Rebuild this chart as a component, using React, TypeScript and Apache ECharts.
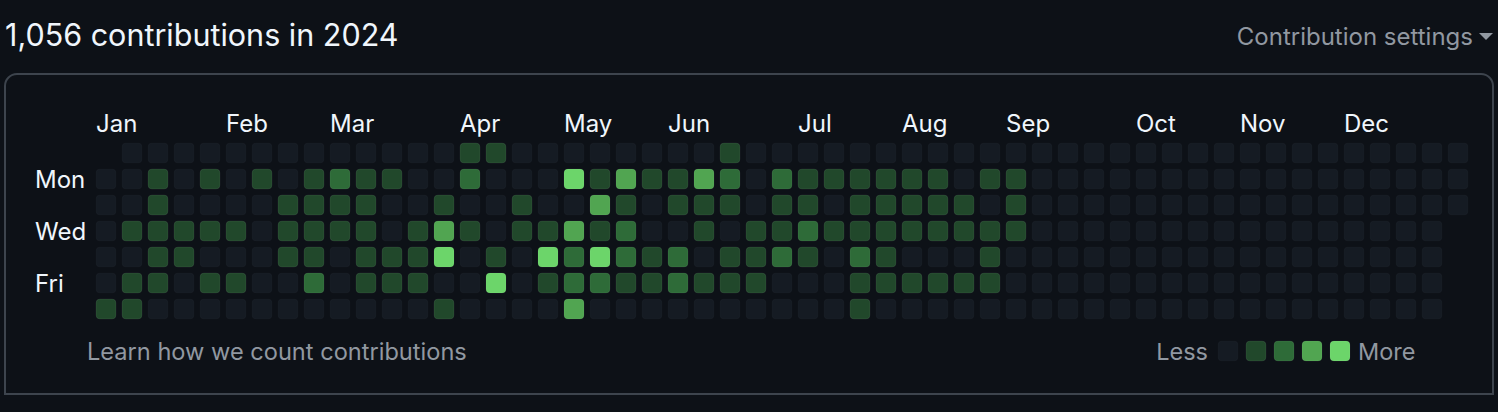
import React, { useEffect, useRef } from "react";
import * as echarts from "echarts";

// ---- Data ----
const TITLE = "1,056 contributions in 2024";
const DAYS = ["Sun", "Mon", "Tue", "Wed", "Thu", "Fri", "Sat"];
const SHOWN_DAYS = ["Mon", "Wed", "Fri"];
const MONTHS = ["Jan", "Feb", "Mar", "Apr", "May", "Jun", "Jul", "Aug", "Sep", "Oct", "Nov", "Dec"];
// week column in which each month label starts
const MONTH_WEEK = [0, 5, 9, 14, 18, 22, 27, 31, 35, 40, 44, 48];
const LEVEL_COLORS = ["#151b23", "#21482b", "#2e6b38", "#51a551", "#6cd56a"];

// contribution level per week (53 columns), one array per weekday; null = outside 2024
const SUN = [
  null, 0, 0, 0, 0, 0, 0, 0, 0, 0, 0, 0, 0,
  0, 1, 1, 0, 0, 0, 0, 0, 0, 0, 0, 1, 0,
  0, 0, 0, 0, 0, 0, 0, 0, 0, 0, 0, 0, 0,
  0, 0, 0, 0, 0, 0, 0, 0, 0, 0, 0, 0, 0, 0,
];
const MON = [
  0, 0, 1, 0, 1, 0, 1, 0, 1, 2, 1, 1, 0,
  0, 2, 0, 0, 0, 4, 1, 3, 1, 1, 3, 2, 0,
  2, 1, 1, 1, 1, 1, 1, 0, 1, 1, 0, 0, 0,
  0, 0, 0, 0, 0, 0, 0, 0, 0, 0, 0, 0, 0, 0,
];
const TUE = [
  0, 0, 1, 0, 0, 0, 0, 1, 1, 1, 1, 0, 0,
  1, 0, 0, 1, 0, 0, 3, 1, 0, 1, 1, 1, 0,
  1, 1, 0, 1, 1, 1, 1, 1, 0, 1, 0, 0, 0,
  0, 0, 0, 0, 0, 0, 0, 0, 0, 0, 0, 0, 0, 0,
];
const WED = [
  0, 1, 1, 1, 1, 1, 0, 1, 1, 1, 1, 0, 1,
  3, 1, 0, 1, 1, 3, 1, 2, 0, 0, 1, 0, 1,
  1, 2, 1, 1, 1, 1, 1, 1, 1, 1, 0, 0, 0,
  0, 0, 0, 0, 0, 0, 0, 0, 0, 0, 0, 0, 0, null,
];
const THU = [
  0, 0, 1, 1, 0, 0, 0, 1, 1, 0, 1, 1, 1,
  4, 0, 1, 0, 4, 2, 4, 2, 1, 2, 0, 1, 1,
  2, 1, 0, 2, 1, 0, 0, 0, 1, 0, 0, 0, 0,
  0, 0, 0, 0, 0, 0, 0, 0, 0, 0, 0, 0, 0, null,
];
const FRI = [
  0, 1, 1, 0, 1, 1, 0, 0, 2, 0, 1, 1, 1,
  0, 0, 4, 0, 1, 2, 2, 1, 1, 2, 1, 1, 1,
  0, 0, 0, 1, 1, 1, 1, 1, 1, 0, 0, 0, 0,
  0, 0, 0, 0, 0, 0, 0, 0, 0, 0, 0, 0, 0, null,
];
const SAT = [
  1, 1, 0, 0, 0, 0, 0, 0, 0, 0, 0, 0, 0,
  1, 0, 0, 0, 0, 3, 0, 0, 0, 0, 0, 0, 0,
  0, 0, 0, 1, 0, 0, 0, 0, 0, 0, 0, 0, 0,
  0, 0, 0, 0, 0, 0, 0, 0, 0, 0, 0, 0, 0, null,
];

const ROWS = [SUN, MON, TUE, WED, THU, FRI, SAT];
const WEEKS = SUN.map((_, i) => "W" + (i + 1));

const FONT = "Inter, 'Noto Sans', 'Liberation Sans', sans-serif";
const FG = "#f0f6fc";
const MUTED = "#9198a1";

export default function App() {
  const ref = useRef<HTMLDivElement>(null);

  useEffect(() => {
    if (!ref.current) return;
    const chart = echarts.init(ref.current, undefined, { renderer: "svg" });

    const cells: any[] = [];
    ROWS.forEach((row, d) => {
      row.forEach((lvl, w) => {
        if (lvl !== null) cells.push([w, d, lvl]);
      });
    });
    const monthData = MONTH_WEEK.map((w, i) => [w, 0, i]);

    const legendX0 = 1218;
    const legendPitch = 28;
    const legendY = 351;

    const option: any = {
      animation: false,
      backgroundColor: "#0d1117",
      grid: { left: 93, top: 140, width: 53 * 26, height: 7 * 26 },
      xAxis: {
        type: "category",
        data: WEEKS,
        axisLine: { show: false },
        axisTick: { show: false },
        axisLabel: { show: false },
        splitLine: { show: false },
      },
      yAxis: {
        type: "category",
        data: DAYS,
        inverse: true,
        axisLine: { show: false },
        axisTick: { show: false },
        splitLine: { show: false },
        axisLabel: {
          interval: 0,
          align: "left",
          margin: 58,
          padding: [0, 0, 4, 0],
          color: FG,
          fontSize: 24,
          fontFamily: FONT,
          formatter: (v: string) => (SHOWN_DAYS.includes(v) ? v : ""),
        },
      },
      series: [
        {
          type: "custom",
          data: cells,
          encode: { x: 0, y: 1 },
          renderItem: (params: any, api: any) => {
            const c = api.coord([api.value(0), api.value(1)]);
            const s = api.size([1, 1]);
            const cw = (s[0] * 20) / 26;
            const ch = (s[1] * 20) / 26;
            const lvl = api.value(2);
            return {
              type: "rect",
              shape: { x: c[0] - cw / 2, y: c[1] - ch / 2, width: cw, height: ch, r: 4 },
              style: {
                fill: LEVEL_COLORS[lvl],
                stroke: lvl > 0 ? "rgba(255,255,255,0.06)" : "rgba(255,255,255,0.02)",
                lineWidth: 1,
              },
            };
          },
        },
        {
          type: "custom",
          data: monthData,
          encode: { x: 0, y: 1 },
          clip: false,
          renderItem: (params: any, api: any) => {
            const c = api.coord([api.value(0), api.value(1)]);
            const s = api.size([1, 1]);
            return {
              type: "text",
              x: c[0] - s[0] / 2 + 3,
              y: c[1] - s[1] * 1.12,
              style: {
                text: MONTHS[api.value(2)],
                fill: FG,
                fontSize: 24,
                fontFamily: FONT,
                textAlign: "left",
                textVerticalAlign: "middle",
              },
            };
          },
        },
      ],
      graphic: [
        {
          type: "rect",
          z: -1,
          shape: { x: 5, y: 74, width: 1488, height: 320, r: [12, 12, 0, 0] },
          style: { fill: "transparent", stroke: "#3d444d", lineWidth: 2 },
        },
        {
          type: "text",
          x: 5,
          y: 34,
          style: {
            text: TITLE,
            fill: FG,
            fontSize: 30.5,
            fontFamily: FONT,
            textAlign: "left",
            textVerticalAlign: "middle",
          },
        },
        {
          type: "text",
          x: 1473,
          y: 36,
          style: {
            text: "Contribution settings",
            fill: MUTED,
            fontSize: 24,
            fontFamily: FONT,
            textAlign: "right",
            textVerticalAlign: "middle",
          },
        },
        {
          type: "polygon",
          shape: { points: [[1479, 33], [1493, 33], [1486, 40]] },
          style: { fill: MUTED },
        },
        {
          type: "text",
          x: 87,
          y: legendY,
          style: {
            text: "Learn how we count contributions",
            fill: MUTED,
            fontSize: 23.6,
            fontFamily: FONT,
            textAlign: "left",
            textVerticalAlign: "middle",
          },
        },
        {
          type: "text",
          x: 1208,
          y: legendY,
          style: {
            text: "Less",
            fill: MUTED,
            fontSize: 23.5,
            fontFamily: FONT,
            textAlign: "right",
            textVerticalAlign: "middle",
          },
        },
        ...LEVEL_COLORS.map((col, i) => ({
          type: "rect",
          shape: { x: legendX0 + i * legendPitch, y: legendY - 10, width: 20, height: 20, r: 4 },
          style: {
            fill: col,
            stroke: i > 0 ? "rgba(255,255,255,0.06)" : "rgba(255,255,255,0.02)",
            lineWidth: 1,
          },
        })),
        {
          type: "text",
          x: 1358,
          y: legendY,
          style: {
            text: "More",
            fill: MUTED,
            fontSize: 23.5,
            fontFamily: FONT,
            textAlign: "left",
            textVerticalAlign: "middle",
          },
        },
      ],
    };

    chart.setOption(option);
    return () => chart.dispose();
  }, []);

  return (
    <div
      ref={ref}
      style={{ position: "fixed", left: 0, top: 0, width: 1498, height: 412 }}
    />
  );
}
